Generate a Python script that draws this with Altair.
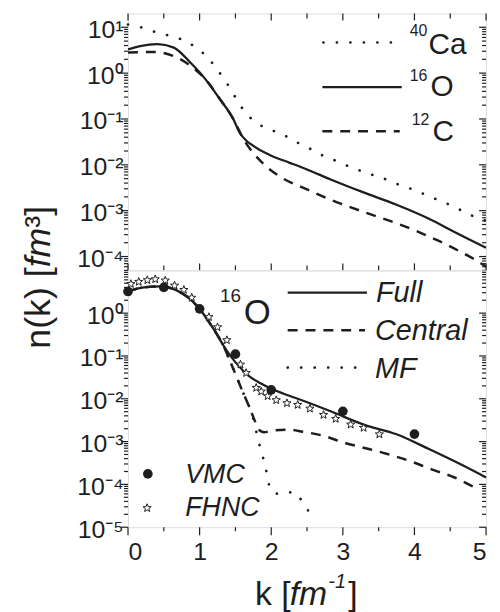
import math
import altair as alt
import pandas as pd

# ---------------- data ----------------
# upper panel: total momentum distributions
ca_k = [0.0, 0.2, 0.38, 0.57, 0.75, 0.93, 1.11, 1.26, 1.39, 1.50, 1.62, 1.79, 1.98, 2.16, 2.34,
        2.53, 2.71, 2.90, 3.08, 3.27, 3.45, 3.64, 3.82, 4.01, 4.19, 4.38, 4.56, 4.75, 5.0]
ca_n = [11.5, 9.8, 7.9, 6.6, 5.4, 3.8, 2.2, 1.12, 0.575, 0.295, 0.151, 0.083, 0.059, 0.046, 0.032,
        0.023, 0.0162, 0.0123, 0.0093, 0.0072, 0.0058, 0.0046, 0.0035, 0.0028, 0.0021, 0.0016,
        0.0012, 0.00085, 0.0006]

o_k = [0.0, 0.17, 0.41, 0.64, 0.87, 1.08, 1.28, 1.47, 1.56, 1.65, 1.75, 1.93, 2.0, 2.25, 2.5,
       2.83, 3.29, 3.75, 4.21, 4.58, 5.0]
o_n = [3.3, 3.9, 4.3, 3.6, 1.7, 0.74, 0.275, 0.1, 0.05, 0.034, 0.026, 0.0178, 0.0158, 0.0112,
       0.0079, 0.0048, 0.0025, 0.00135, 0.00066, 0.00033, 0.000155]

c_k = [0.0, 0.36, 0.68, 0.96, 1.08, 1.28, 1.47, 1.61, 1.86, 2.16, 2.46, 2.78, 3.08, 3.41, 3.71,
       4.01, 4.31, 4.63, 4.95, 5.0]
c_n = [2.8, 2.9, 2.2, 1.12, 0.74, 0.275, 0.1, 0.037, 0.0117, 0.0051, 0.0031, 0.00186, 0.00123,
       0.00081, 0.00056, 0.00037, 0.00023, 0.00013, 6.8e-5, 6.0e-5]

# lower panel: 16O decomposition
full_k = [0.0, 0.22, 0.45, 0.68, 0.96, 1.19, 1.33, 1.51, 1.70, 1.85, 1.98, 2.2, 2.37, 2.83, 3.29,
          3.75, 4.21, 4.68, 5.0]
full_n = [3.2, 4.0, 4.2, 3.4, 1.5, 0.44, 0.178, 0.068, 0.033, 0.023, 0.0178, 0.0126, 0.01, 0.0051,
          0.0025, 0.00148, 0.00066, 0.000275, 0.000145]

central_k = [0.0, 0.22, 0.45, 0.68, 0.96, 1.19, 1.33, 1.42, 1.50, 1.58, 1.65, 1.72, 1.78, 1.84,
             1.90, 2.0, 2.25, 2.44, 2.74, 3.01, 3.29, 3.61, 3.94, 4.24, 4.56, 4.82]
central_n = [3.2, 4.0, 4.2, 3.4, 1.5, 0.44, 0.178, 0.079, 0.038, 0.0178, 0.0095, 0.005, 0.0028,
             0.00182, 0.00166, 0.00178, 0.0019, 0.0017, 0.00135, 0.00095, 0.00072, 0.00052,
             0.00035, 0.000224, 0.000145, 8.9e-5]

mf_k = [0.0, 0.22, 0.45, 0.68, 0.96, 1.19, 1.33, 1.42, 1.50, 1.58, 1.65, 1.72, 1.77, 1.81, 1.86,
        1.91, 1.95, 1.99, 2.11, 2.31, 2.46, 2.58]
mf_n = [3.2, 4.0, 4.2, 3.4, 1.5, 0.44, 0.178, 0.079, 0.038, 0.0178, 0.0095, 0.005, 0.0025,
        0.00123, 0.0006, 0.000295, 0.000145, 7.2e-5, 6.0e-5, 6.6e-5, 3.4e-5, 1.6e-5]

vmc_k = [0.0, 0.5, 1.0, 1.5, 2.0, 3.0, 4.0]
vmc_n = [3.2, 4.0, 1.26, 0.11, 0.0162, 0.0051, 0.0015]

fhnc_k = [0.04, 0.15, 0.27, 0.38, 0.52, 0.65, 0.78, 0.89, 1.13, 1.25, 1.38, 1.57, 1.65, 1.79,
          1.86, 1.95, 2.07, 2.22, 2.37, 2.54, 2.73, 2.90, 3.11, 3.29, 3.51]
fhnc_n = [4.8, 5.4, 5.9, 6.2, 5.8, 4.4, 3.5, 2.3, 0.81, 0.47, 0.234, 0.063, 0.040, 0.018, 0.0148,
          0.0115, 0.0093, 0.0079, 0.0072, 0.0059, 0.0042, 0.0034, 0.0025, 0.0021, 0.00148]

# ticks
x_major = [0, 1, 2, 3, 4, 5]
x_minor = [0.5, 1.5, 2.5, 3.5, 4.5]
top_dec = [1e-4, 1e-3, 1e-2, 1e-1, 1.0, 10.0]
bot_dec = [1e-5, 1e-4, 1e-3, 1e-2, 1e-1, 1.0]
top_minor = [m * 10.0 ** e for e in range(-5, 2) for m in range(2, 10) if 5e-5 <= m * 10.0 ** e < 19]
bot_minor = [m * 10.0 ** e for e in range(-5, 1) for m in range(2, 10)]

# labels
top_sup = ["40", "16", "12"]
top_main = ["Ca", "O", "C"]
bot_names = ["Full", "Central", "MF"]
mark_names = ["VMC", "FHNC"]

# ---------------- styling ----------------
W, H = 361, 259
FONT = "Liberation Sans"
INK = "#1e1e1e"
DASH = [10, 8]
DOT = [0.1, 13.5]

pts = []
for i in range(10):
    a = math.pi * (-0.5 + i / 5)
    r = 1.0 if i % 2 == 0 else 0.42
    pts.append(f"{r * math.cos(a):.3f},{r * math.sin(a):.3f}")
STAR = "M" + "L".join(pts) + "Z"

xs = alt.Scale(domain=[0, 5], nice=False, zero=False)
ys_top = alt.Scale(type="log", domain=[5e-5, 20], nice=False)
ys_bot = alt.Scale(type="log", domain=[1e-5, 10], nice=False)

SUP = {1: "\u00b9", 0: "\u2070", -1: "\u207b\u00b9", -2: "\u207b\u00b2", -3: "\u207b\u00b3",
       -4: "\u207b\u2074", -5: "\u207b\u2075"}
E = "round(log(datum.value)/LN10)"
label_expr = "''"
for ex, s in SUP.items():
    label_expr = f"{E} == {ex} ? '10{s}' : ({label_expr})"


def yaxis(vals):
    return alt.Axis(values=vals, labelExpr=label_expr, ticks=False, tickSize=0, domain=False,
                    grid=False, title=None, labelPadding=5, labelFontSize=25, labelFont=FONT,
                    labelColor=INK, labelOffset=2)


xaxis_bot = alt.Axis(values=x_major, format="d", ticks=False, tickSize=0, domain=False, grid=False,
                     title=None, labelPadding=13, labelFontSize=25, labelFont=FONT, labelColor=INK)


def X(axis):
    return alt.X("k:Q", scale=xs, axis=axis)


def Y(ys, axis):
    return alt.Y("n:Q", scale=ys, axis=axis)


def curve(k, n, ys, ya, xa, dash=None, width=2.2, cap="butt"):
    props = dict(color=INK, strokeWidth=width, interpolate="monotone", strokeCap=cap)
    if dash:
        props["strokeDash"] = dash
    df = pd.DataFrame({"k": k, "n": n})
    return alt.Chart(df).mark_line(**props).encode(x=X(xa), y=Y(ys, ya))


one = pd.DataFrame({"o": [0]})


def hline(x0, x1, y, dash=None, width=2.2, cap="butt"):
    props = dict(color=INK, strokeWidth=width, strokeCap=cap)
    if dash:
        props["strokeDash"] = dash
    return alt.Chart(one).mark_rule(**props).encode(
        x=alt.value(x0), x2=alt.value(x1), y=alt.value(y))


def label(txt, x, y, size, italic=False, angle=0):
    props = dict(text=txt, font=FONT, fontSize=size, color=INK, align="left",
                 baseline="alphabetic")
    if italic:
        props["fontStyle"] = "italic"
    if angle:
        props["angle"] = angle
    return alt.Chart(one).mark_text(**props).encode(x=alt.value(x), y=alt.value(y))


def ticks(ys, ya, xa, dec, minor, bottom_out):
    out = []
    dfy = pd.DataFrame({"n": dec})
    dfy2 = pd.DataFrame({"n": minor})
    dfx = pd.DataFrame({"k": x_major})
    dfx2 = pd.DataFrame({"k": x_minor})
    r = dict(color=INK, strokeWidth=1.2)
    out.append(alt.Chart(dfy).mark_rule(**r).encode(y=Y(ys, ya), x=alt.value(-7), x2=alt.value(0)))
    out.append(alt.Chart(dfy2).mark_rule(**r).encode(y=Y(ys, ya), x=alt.value(-4), x2=alt.value(0)))
    out.append(alt.Chart(dfy).mark_rule(**r).encode(y=Y(ys, ya), x=alt.value(W - 7), x2=alt.value(W)))
    out.append(alt.Chart(dfy2).mark_rule(**r).encode(y=Y(ys, ya), x=alt.value(W - 4), x2=alt.value(W)))
    if not bottom_out:
        out.append(alt.Chart(dfx).mark_rule(**r).encode(x=X(xa), y=alt.value(0), y2=alt.value(7)))
        out.append(alt.Chart(dfx2).mark_rule(**r).encode(x=X(xa), y=alt.value(0), y2=alt.value(5)))
        out.append(alt.Chart(dfx).mark_rule(**r).encode(x=X(xa), y=alt.value(H - 7), y2=alt.value(H)))
        out.append(alt.Chart(dfx2).mark_rule(**r).encode(x=X(xa), y=alt.value(H - 5), y2=alt.value(H)))
    else:
        out.append(alt.Chart(dfx).mark_rule(**r).encode(x=X(xa), y=alt.value(H), y2=alt.value(H + 8)))
        out.append(alt.Chart(dfx2).mark_rule(**r).encode(x=X(xa), y=alt.value(H), y2=alt.value(H + 4)))
    return out


# ---------------- upper panel ----------------
ya_t = yaxis(top_dec)
top_layers = ticks(ys_top, ya_t, None, top_dec, top_minor, False) + [
    curve(ca_k, ca_n, ys_top, ya_t, None, dash=DOT, width=2.7, cap="round"),
    curve(c_k, c_n, ys_top, ya_t, None, dash=DASH, width=2.5),
    curve(o_k, o_n, ys_top, ya_t, None, width=2.3),
    hline(197, 268, 29.3, dash=DOT, width=2.7, cap="round"),
    hline(196, 276, 74.3, width=2.3),
    hline(196, 274, 118.7, dash=DASH, width=2.5),
    label(top_sup[0], 284, 22.7, 16), label(top_main[0], 303, 41, 30),
    label(top_sup[1], 284, 67.7, 16), label(top_main[1], 305, 83.5, 30),
    label(top_sup[2], 286, 112.7, 16), label(top_main[2], 307, 129, 30),
    # y title (spans both panels)
    label("n(k) [", -79, 338, 36, angle=270),
    label("fm", -79, 256, 36, italic=True, angle=270),
    label("\u00b3]", -79, 216, 36, angle=270),
]
top = alt.layer(*top_layers).properties(width=W, height=H)

# ---------------- lower panel ----------------
ya_b = yaxis(bot_dec)
bot_layers = ticks(ys_bot, ya_b, xaxis_bot, bot_dec, bot_minor, True) + [
    curve(mf_k, mf_n, ys_bot, ya_b, xaxis_bot, dash=DOT, width=2.7, cap="round"),
    curve(central_k, central_n, ys_bot, ya_b, xaxis_bot, dash=DASH, width=2.5),
    curve(full_k, full_n, ys_bot, ya_b, xaxis_bot, width=2.3),
    alt.Chart(pd.DataFrame({"k": fhnc_k, "n": fhnc_n})).mark_point(
        shape=STAR, filled=True, fill="white", stroke=INK, strokeWidth=1.0, size=75, opacity=1
    ).encode(x=X(xaxis_bot), y=Y(ys_bot, ya_b)),
    alt.Chart(pd.DataFrame({"k": vmc_k, "n": vmc_n})).mark_point(
        shape="circle", filled=True, color=INK, size=95, opacity=1
    ).encode(x=X(xaxis_bot), y=Y(ys_bot, ya_b)),
    hline(161, 241, 22.5, width=2.3),
    hline(161, 239, 60.3, dash=DASH, width=2.5),
    hline(161, 231, 98, dash=DOT, width=2.7, cap="round"),
    label(bot_names[0], 250, 32, 29, italic=True),
    label(bot_names[1], 249, 70.3, 29, italic=True),
    label(bot_names[2], 249, 108.7, 29, italic=True),
    label("16", 92.7, 32, 19), label("O", 116.7, 53.7, 35),
    alt.Chart(one).mark_point(shape="circle", filled=True, color=INK, size=95, opacity=1).encode(
        x=alt.value(20), y=alt.value(205.3)),
    alt.Chart(one).mark_point(shape=STAR, filled=True, fill="white", stroke=INK, strokeWidth=1.0,
                              size=75, opacity=1).encode(x=alt.value(19.3), y=alt.value(239.7)),
    label(mark_names[0], 57.7, 214, 27, italic=True),
    label(mark_names[1], 57.7, 247.7, 27, italic=True),
    # x title
    label("k [", 128, 337, 34),
    label("fm", 163, 337, 34, italic=True),
    label("-1", 202, 320, 20, italic=True),
    label("]", 222, 337, 34),
]
bottom = alt.layer(*bot_layers).properties(width=W, height=H)

chart = alt.vconcat(top, bottom, spacing=0, bounds="flush").properties(
    padding={"left": 12, "top": 1, "right": 0, "bottom": 0}
).configure_view(stroke=INK, strokeWidth=1.5).configure(background="white")

chart.save("out.html", embed_options={"renderer": "svg", "actions": False})
